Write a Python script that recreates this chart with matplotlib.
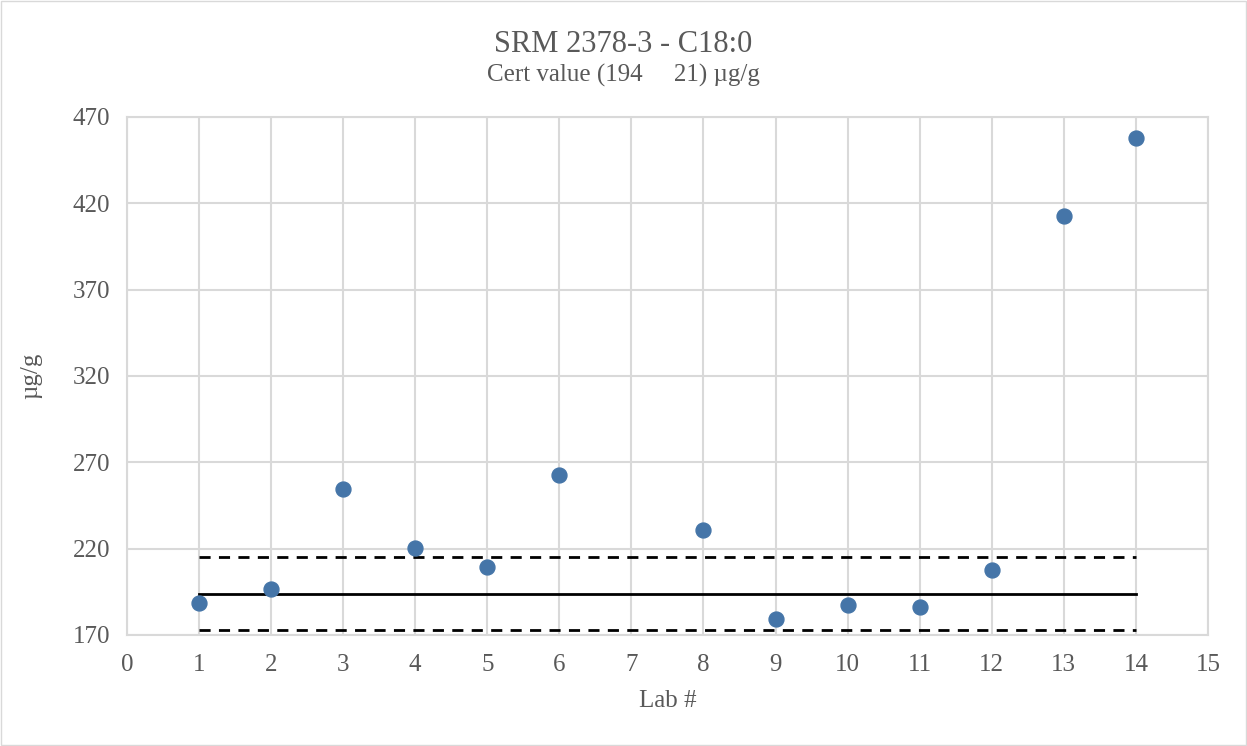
import matplotlib.pyplot as plt
from matplotlib.patches import Rectangle

# lab results (µg/g)
labs = [1, 2, 3, 4, 5, 6, 8, 9, 10, 11, 12, 13, 14]
values = [188.5, 196.6, 254.5, 220.4, 209.4, 262.6, 230.8, 179.3, 187.4, 186.2, 207.6, 412.6, 457.8]

cert = 194
uncert = 21
line_x = [1, 14]

plt.rcParams['font.family'] = ['Liberation Serif', 'DejaVu Serif']
gray = '#595959'
grid_c = '#d9d9d9'

fig = plt.figure(figsize=(12.47, 7.46), dpi=100)
ax = fig.add_axes([0.1018, 0.1488, 0.8669, 0.6944])

ax.plot(line_x, [cert, cert], color='black', lw=2)
ax.plot(line_x, [cert + uncert, cert + uncert], color='black', lw=2, ls=(0, (4, 3)))
ax.plot(line_x, [cert - uncert, cert - uncert], color='black', lw=2, ls=(0, (4, 3)))
ax.scatter(labs, values, s=115, color='#4575A8', zorder=3)

ax.set_xlim(0, 15)
ax.set_ylim(170, 470)
ax.set_xticks(range(0, 16))
ax.set_yticks(range(170, 471, 50))
ax.grid(True, color=grid_c, lw=1.5)
ax.set_axisbelow(True)
for s in ax.spines.values():
    s.set_color(grid_c)
    s.set_linewidth(1.5)
ax.tick_params(length=0, labelsize=18, colors=gray)
ax.tick_params(axis='x', pad=14)
ax.tick_params(axis='y', pad=12)

ax.set_xlabel('Lab #', fontsize=18, color=gray, labelpad=10)
ax.set_ylabel('µg/g', fontsize=18, color=gray, labelpad=22)

fig.text(0.5, 0.94, 'SRM 2378-3 - C18:0', ha='center', va='center', fontsize=22, color=gray)
fig.text(0.5, 0.899, 'Cert value (194     21) µg/g', ha='center', va='center', fontsize=18, color=gray)

fig.patches.append(Rectangle((0.001, 0.001), 0.998, 0.997, transform=fig.transFigure,
                             fill=False, edgecolor=grid_c, lw=1))

fig.savefig('out.png', dpi=100)
